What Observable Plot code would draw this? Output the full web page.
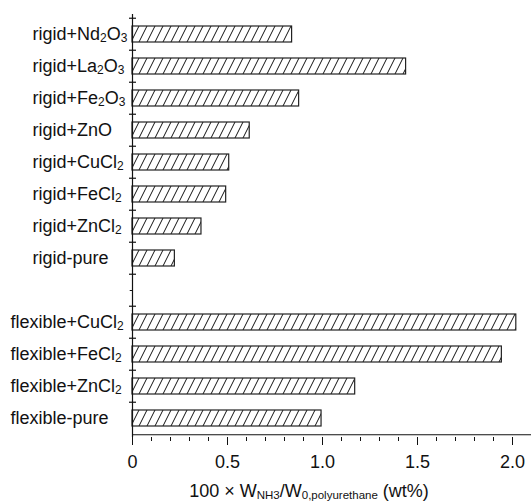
<!DOCTYPE html>
<html><head><meta charset="utf-8">
<script src="https://cdn.jsdelivr.net/npm/d3@7"></script>
<script src="https://cdn.jsdelivr.net/npm/@observablehq/plot@0.6"></script>
<style>body{margin:0;background:#fff;}</style>
</head><body><div id="chart"></div>
<script>
const rigidCategories = ["rigid+Nd₂O₃", "rigid+La₂O₃", "rigid+Fe₂O₃", "rigid+ZnO", "rigid+CuCl₂", "rigid+FeCl₂", "rigid+ZnCl₂", "rigid-pure"];
const flexibleCategories = ["flexible+CuCl₂", "flexible+FeCl₂", "flexible+ZnCl₂", "flexible-pure"];
const rigidValues = [0.84, 1.44, 0.877, 0.617, 0.509, 0.493, 0.363, 0.223];
const flexibleValues = [2.02, 1.944, 1.172, 0.995];
const spacer = " ";
const yDomain = [...rigidCategories, spacer, ...flexibleCategories];
const majorTicks = [0, 0.5, 1.0, 1.5, 2.0];
const minorTicks = [0.1, 0.2, 0.3, 0.4, 0.6, 0.7, 0.8, 0.9, 1.1, 1.2, 1.3, 1.4, 1.6, 1.7, 1.8, 1.9, 2.1];
const xTitle = [["100 × W", false], ["NH3", true], ["/W", false], ["0,polyurethane", true], [" (wt%)", false]];

const data = [
  ...rigidCategories.map((c, i) => ({label: c, value: rigidValues[i]})),
  ...flexibleCategories.map((c, i) => ({label: c, value: flexibleValues[i]}))
];

const W = 531, H = 503, mT = 14, mB = 66, mL = 132;
const step = (H - mT - mB) / yDomain.length;
const font = "'Liberation Sans', Arial, sans-serif";

const svg = Plot.plot({
  width: W, height: H,
  marginTop: mT, marginBottom: mB, marginLeft: mL, marginRight: 0,
  style: {fontFamily: font, fontSize: "18px", color: "#111", background: "#fff"},
  x: {domain: [0, 2.1]},
  y: {domain: yDomain, paddingInner: 0.5, paddingOuter: 0.25},
  marks: [
    Plot.barX(data, {x: "value", y: "label", fill: "url(#hatch)", stroke: "#222", strokeWidth: 1.2}),
    Plot.ruleX([0], {stroke: "#111", strokeWidth: 1.2}),
    Plot.ruleY(yDomain, {y: d => d, dy: -step / 2, x1: -0.0158, x2: 0.021, stroke: "#111", strokeWidth: 1.2}),
    Plot.ruleY([spacer], {y: d => d, x1: -0.012, x2: 0, stroke: "#111"}),
    Plot.ruleY([yDomain[yDomain.length - 1]], {y: d => d, dy: step / 2, x1: 0, x2: 2.1, stroke: "#111", strokeWidth: 1.2}),
    Plot.axisY({ticks: rigidCategories, tickSize: 0, tickPadding: 100, textAnchor: "start", fontSize: 18, label: null}),
    Plot.axisY({ticks: flexibleCategories, tickSize: 0, tickPadding: 122, textAnchor: "start", fontSize: 18, label: null}),
    Plot.axisX({ticks: majorTicks, tickSize: 8, tickPadding: 10, fontSize: 18, label: null,
      tickFormat: d => d === 0 ? "0" : d.toFixed(1), stroke: "#111"}),
    Plot.axisX({ticks: minorTicks, tickSize: 4, tickFormat: () => "", label: null, stroke: "#111"})
  ]
});

const s = d3.select(svg);
const pat = s.insert("defs", ":first-child").append("pattern")
  .attr("id", "hatch").attr("patternUnits", "userSpaceOnUse")
  .attr("width", 8).attr("height", 16);
pat.append("rect").attr("width", 8).attr("height", 16).attr("fill", "#fff");
pat.append("path").attr("d", "M-1,18L9,-2M7,18L9,14M-1,2L1,-2")
  .attr("stroke", "#111").attr("stroke-width", 1).attr("fill", "none");

// subscripts in tick labels
const subMap = {"₀":"0","₁":"1","₂":"2","₃":"3","₄":"4","₅":"5","₆":"6","₇":"7","₈":"8","₉":"9"};
s.selectAll('g[aria-label="y-axis tick label"] text').each(function() {
  const t = this.textContent;
  const el = d3.select(this);
  el.text(null);
  let runs = [];
  for (const ch of t) {
    const sub = ch in subMap;
    const c = sub ? subMap[ch] : ch;
    if (runs.length && runs[runs.length - 1][1] === sub) runs[runs.length - 1][0] += c;
    else runs.push([c, sub]);
  }
  for (const [txt, sub] of runs) {
    const ts = el.append("tspan").text(txt);
    if (sub) ts.attr("font-size", 12).attr("baseline-shift", -2);
  }
});

// x axis title
const title = s.append("text")
  .attr("x", 309).attr("y", 497)
  .attr("text-anchor", "middle")
  .attr("font-family", font).attr("font-size", 18).attr("fill", "#111");
for (const [txt, sub] of xTitle) {
  const ts = title.append("tspan").text(txt);
  if (sub) ts.attr("font-size", 11.5).attr("baseline-shift", -2);
}

document.getElementById("chart").appendChild(svg);
</script>
</body></html>
